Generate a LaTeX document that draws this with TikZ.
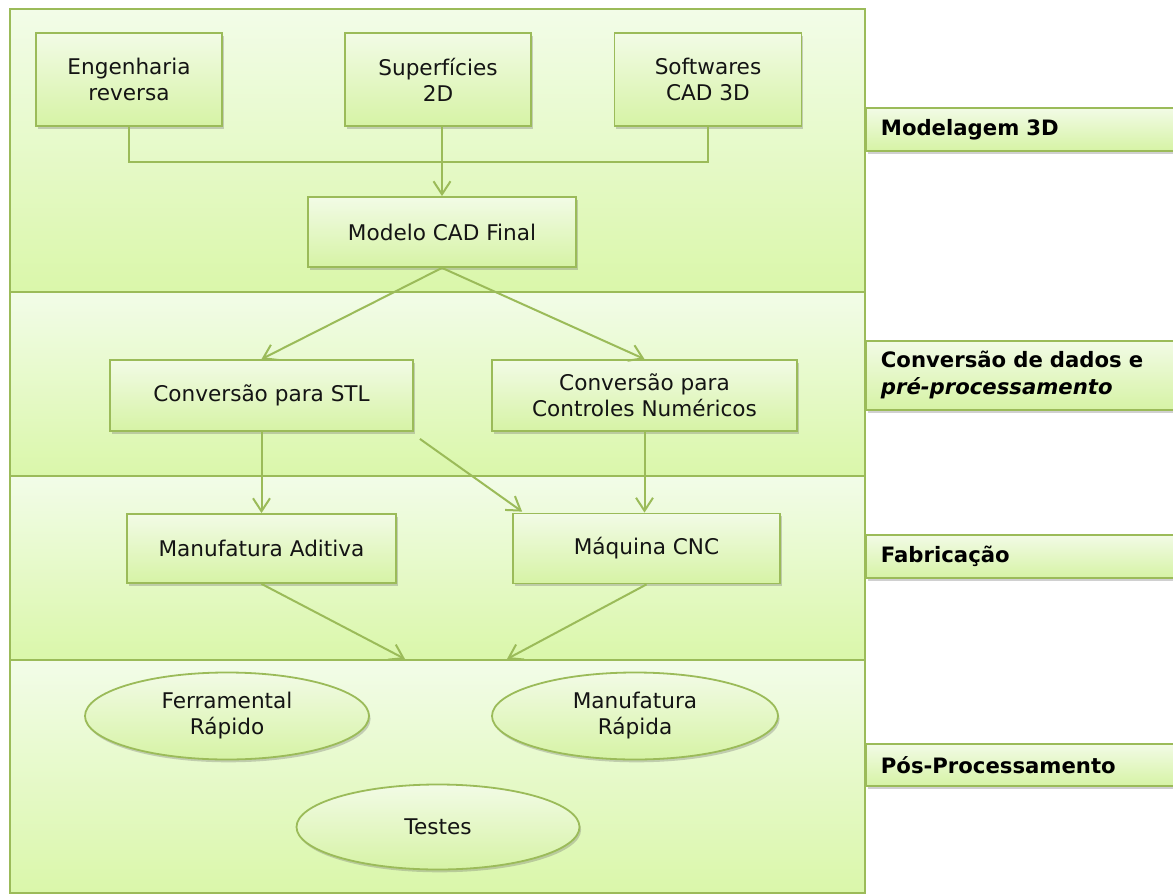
\documentclass[tikz,border=0pt]{standalone}
\usepackage{fontspec}
\setmainfont{DejaVu Sans}
\usetikzlibrary{arrows.meta,shadows,shapes.geometric,calc}
\definecolor{gborder}{RGB}{155,187,89}
\definecolor{bandtop}{RGB}{242,252,232}
\definecolor{bandbot}{RGB}{218,247,170}
\definecolor{boxtop}{RGB}{242,251,230}
\definecolor{boxbot}{RGB}{214,243,165}
\definecolor{txt}{RGB}{20,20,20}
\begin{document}
\begin{tikzpicture}[x=0.5pt,y=-0.5pt,
  font=\fontsize{10.8}{13}\selectfont,
  shad/.style={drop shadow={shadow xshift=0.8pt,shadow yshift=-1.4pt,opacity=0.3,fill=black!60}},
  band/.style={draw=gborder,line width=0.9pt,top color=bandtop,bottom color=bandbot},
  stepbox/.style={draw=gborder,line width=0.9pt,top color=boxtop,bottom color=boxbot,
    shad,align=center,text=txt,inner sep=0pt},
  ovalbox/.style={stepbox,ellipse},
  labelbox/.style={draw=gborder,line width=0.9pt,top color=boxtop,bottom color=boxbot,
    shad,anchor=north west,minimum width=170pt,text width=155pt,align=left,
    inner xsep=7.5pt,inner ysep=0pt,font=\fontsize{10.6}{13.5}\selectfont\bfseries,text=black},
  conn/.style={draw=gborder,line width=1pt},
  arr/.style={conn,-{Straight Barb[length=6.5pt,width=8.5pt,line width=1pt]}}
]
\useasboundingbox (0,0) rectangle (1173,894);
\fill[white] (0,0) rectangle (1173,894);

% bands
\shade[band] (10,9) rectangle (865,292);
\shade[band] (10,292) rectangle (865,476);
\shade[band] (10,476) rectangle (865,660);
\shade[band] (10,660) rectangle (865,893);

% label boxes
\node[labelbox,minimum height=21.5pt] (l1) at (865,107) {Modelagem 3D};
\node[labelbox,minimum height=34.5pt] (l2) at (865,340) {Conversão de dados e\\\textit{pré-processamento}};
\node[labelbox,minimum height=21.5pt] (l3) at (865,534) {Fabricação};
\node[labelbox,minimum height=21pt] (l4) at (865,743) {Pós-Processamento};

% boxes
\node[stepbox,minimum width=93pt,minimum height=46.5pt] (eng) at (129,79.5) {Engenharia\\reversa};
\node[stepbox,minimum width=93pt,minimum height=46.5pt] (sup) at (438,79.5) {Superfícies\\2D};
\node[stepbox,minimum width=93.5pt,minimum height=46.5pt] (soft) at (708,79.5) {Softwares\\CAD 3D};
\node[stepbox,minimum width=134pt,minimum height=35pt] (mod) at (442,232) {Modelo CAD Final};
\node[stepbox,minimum width=151.5pt,minimum height=35.5pt] (stl) at (261.5,395.5) {Conversão para STL};
\node[stepbox,minimum width=152.5pt,minimum height=35.5pt] (cn) at (644.5,395.5) {Conversão para\\Controles Numéricos};
\node[stepbox,minimum width=134.5pt,minimum height=34.5pt] (ma) at (261.5,548.5) {Manufatura Aditiva};
\node[stepbox,minimum width=133.5pt,minimum height=35pt] (cnc) at (646.5,548.5) {Máquina CNC};
\node[ovalbox,minimum width=142pt,minimum height=43.5pt] (fr) at (227,716) {Ferramental\\Rápido};
\node[ovalbox,minimum width=143pt,minimum height=43.5pt] (mr) at (635,716) {Manufatura\\Rápida};
\node[ovalbox,minimum width=141.5pt,minimum height=42.5pt] (te) at (438,827) {Testes};

% connectors
\coordinate (j) at (442,162);
\draw[conn] (eng.south) |- (j) -| (soft.south);
\draw[arr] (sup.south -| mod.north) -- (mod.north);
\draw[arr] (mod.south) -- (stl.north);
\draw[arr] (mod.south) -- (cn.north);
\draw[arr] (stl.south) -- (ma.north);
\draw[arr] (cn.south) -- (cn.south |- cnc.north);
\coordinate (s1) at ($(stl.south east)+(6,7)$);
\coordinate (e1) at ($(cnc.north west)+(10,-1)$);
\draw[arr] (s1) -- (e1);
\coordinate (t1) at (405,659);
\coordinate (t2) at (507,659);
\draw[arr] (ma.south) -- (t1);
\draw[arr] (cnc.south) -- (t2);
\end{tikzpicture}
\end{document}
